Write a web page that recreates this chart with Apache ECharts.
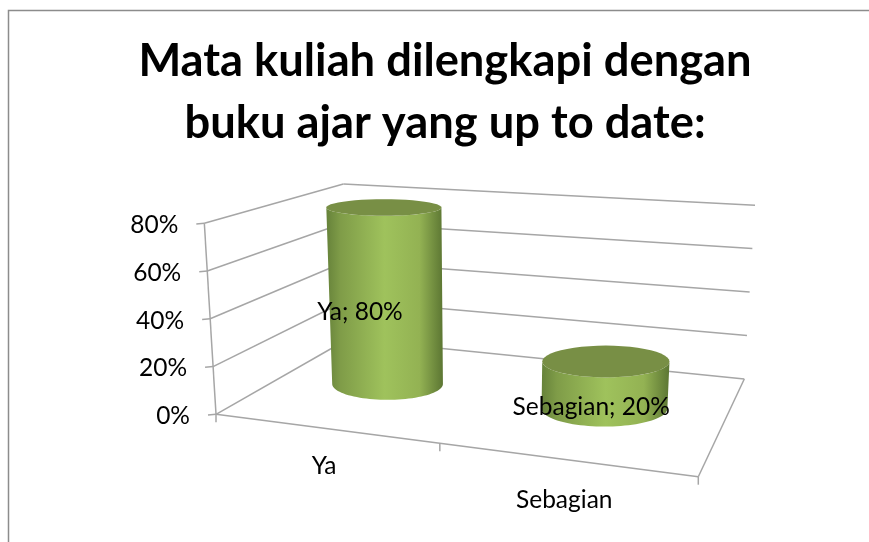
<!DOCTYPE html>
<html>
<head>
<meta charset="utf-8">
<style>
  html, body { margin: 0; padding: 0; background: #fff; }
  #chart { width: 869px; height: 542px; }
</style>
</head>
<body>
<div id="chart"></div>
<script src="https://cdn.jsdelivr.net/npm/echarts@6/dist/echarts.min.js"></script>
<script>
const chartTitle = 'Mata kuliah dilengkapi dengan\nbuku ajar yang up to date:'
const categories = ['Ya', 'Sebagian']
const shares = [0.8, 0.2]
const valueTicks = [0, 0.2, 0.4, 0.6, 0.8]

const FONT = 'Lato, "Noto Sans", sans-serif'
const LINE = '#a6a6a6'

// hidden cartesian grid: gives the scales, its pixels are then pushed through the 3D view
const GRID = { left: 100, top: 100, width: 400, height: 200 }

// floor corners of the 3D box, (u, d): front-left, front-right, back-right, back-left
const [p0, p1, p2, p3] = [[216, 414.3], [698.3, 476.7], [744.3, 379], [348, 339]]
const FULL_HEIGHT = 191
const VANISH = [478, 4700]

const sx = p0[0] - p1[0] + p2[0] - p3[0]
const sy = p0[1] - p1[1] + p2[1] - p3[1]
const dx1 = p1[0] - p2[0], dy1 = p1[1] - p2[1]
const dx2 = p3[0] - p2[0], dy2 = p3[1] - p2[1]
const det = dx1 * dy2 - dy1 * dx2
const g = (sx * dy2 - sy * dx2) / det
const h = (dx1 * sy - dy1 * sx) / det

function project(u, d, w) {
  const den = 1 + g * u + h * d
  const x = (p0[0] + (p1[0] - p0[0] + g * p1[0]) * u + (p3[0] - p0[0] + h * p3[0]) * d) / den
  const y = (p0[1] + (p1[1] - p0[1] + g * p1[1]) * u + (p3[1] - p0[1] + h * p3[1]) * d) / den
  const up = FULL_HEIGHT * w / den
  return [x + (x - VANISH[0]) * up / (VANISH[1] - y), y - up, den]
}

function toUnit(api, cat, val) {
  const c = api.coord([cat, val])
  return [(c[0] - GRID.left) / GRID.width, (GRID.top + GRID.height - c[1]) / GRID.height]
}

function line(a, b, z) {
  return {
    type: 'line',
    z2: z || 1,
    shape: { x1: a[0], y1: a[1], x2: b[0], y2: b[1] },
    style: { stroke: LINE, lineWidth: 1.5 }
  }
}

function label(text, x, y, align) {
  return {
    type: 'text',
    z2: 5,
    style: { text: text, x: x, y: y, font: '24.5px ' + FONT, fill: '#000', align: align, verticalAlign: 'middle' }
  }
}

function renderWalls(params, api) {
  const val = api.value(1)
  const w = toUnit(api, 0, val)[1]
  const front = project(0, 0, w)
  const back = project(0, 1, w)
  const right = project(1, 1, w)
  const children = [
    line(front, back),
    line(back, right),
    line([front[0] - 8, front[1] + 0.7], front),
    label(Math.round(val * 100) + '%', front[0] - 26, front[1] + 2, 'right')
  ]
  if (val === 0) {
    const fr = project(1, 0, 0)
    children.push(line(front, fr), line(fr, right), line(front, project(0, 0, toUnit(api, 0, 0.8)[1])))
    // category ticks on the front floor edge
    for (let i = 0; i <= categories.length; i++) {
      const t = project(i / categories.length, 0, 0)
      children.push(line(t, [t[0], t[1] + 8]))
    }
  }
  return { type: 'group', children: children }
}

const RADIUS_U = 0.136
const RADIUS_D = 0.2

// Office draws the rims as level ellipses, so only centre and radii come from the 3D view
function rim(u, w, from, to) {
  const c = project(u, 0.5, w)
  const rx = (project(u + RADIUS_U, 0.5, w)[0] - project(u - RADIUS_U, 0.5, w)[0]) / 2
  const ry = (project(u, 0.5 - RADIUS_D, w)[1] - project(u, 0.5 + RADIUS_D, w)[1]) / 2
  const pts = []
  const n = 48
  for (let i = 0; i <= n; i++) {
    const t = from + (to - from) * i / n
    pts.push([c[0] + rx * Math.cos(t), c[1] + ry * Math.sin(t)])
  }
  return pts
}

function renderCylinder(params, api) {
  const idx = api.value(0)
  const val = api.value(1)
  const [u, w] = toUnit(api, idx, val)
  const side = rim(u, 0, Math.PI, 0).concat(rim(u, w, 0, Math.PI))
  const tagAt = project(u, 0.25, w / 2)
  const floorAt = project(u, 0, 0)
  return {
    type: 'group',
    children: [
      {
        type: 'polygon',
        z2: 2,
        shape: { points: side },
        style: {
          fill: new echarts.graphic.LinearGradient(0, 0, 1, 0, [
            { offset: 0, color: '#66823a' },
            { offset: 0.12, color: '#7f9c48' },
            { offset: 0.5, color: '#9fc25c' },
            { offset: 0.8, color: '#93b253' },
            { offset: 1, color: '#5c7633' }
          ])
        }
      },
      {
        type: 'polygon',
        z2: 3,
        shape: { points: rim(u, w, 0, 2 * Math.PI) },
        style: { fill: '#788f45' }
      },
      label(categories[idx] + '; ' + Math.round(val * 100) + '%', tagAt[0] + 5, tagAt[1], 'center'),
      label(categories[idx], floorAt[0], floorAt[1] + 36.8 / floorAt[2], 'center')
    ]
  }
}

const chart = echarts.init(document.getElementById('chart'))
chart.setOption({
  animation: false,
  backgroundColor: '#fff',
  title: {
    text: chartTitle,
    left: 440,
    top: 25,
    textAlign: 'center',
    textStyle: { fontFamily: FONT, fontSize: 45.3, fontWeight: 'bold', lineHeight: 62, color: '#000' }
  },
  graphic: [
    {
      type: 'polyline',
      shape: { points: [[8.5, 542], [8.5, 10.5], [869, 10.5]] },
      style: { stroke: '#8c8c8c', lineWidth: 1.5, fill: null }
    }
  ],
  grid: GRID,
  xAxis: { type: 'category', data: categories, show: false },
  yAxis: { type: 'value', min: 0, max: 0.8, interval: 0.2, show: false },
  series: [
    {
      type: 'custom',
      z: 1,
      renderItem: renderWalls,
      data: valueTicks.map(v => [0, v])
    },
    {
      type: 'custom',
      z: 2,
      renderItem: renderCylinder,
      data: shares.map((v, i) => [i, v])
    }
  ]
})
</script>
</body>
</html>
